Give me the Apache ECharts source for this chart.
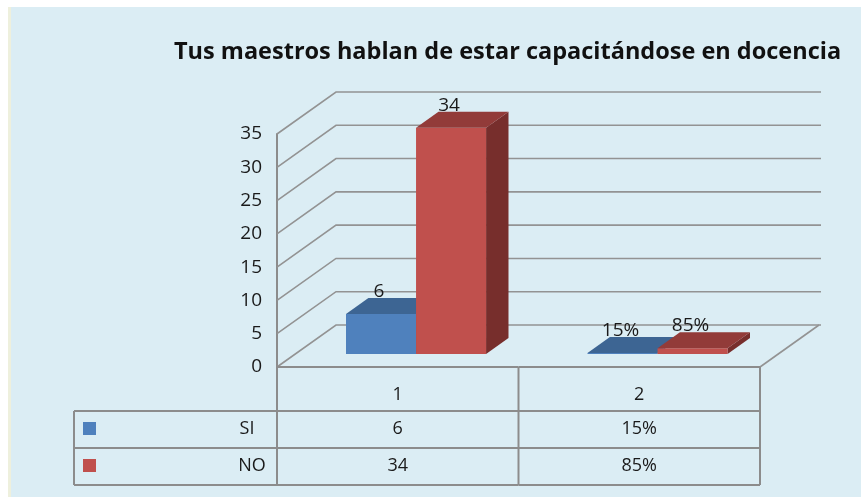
<!DOCTYPE html>
<html>
<head>
<meta charset="utf-8">
<script src="https://cdn.jsdelivr.net/npm/echarts@6/dist/echarts.min.js"></script>
<style>
  html, body { margin: 0; padding: 0; background: #fff; }
  #main { width: 861px; height: 497px; }
</style>
</head>
<body>
<div id="main"></div>
<script>
// datos del grafico
var categorias = ['1', '2'];
var nombres = ['SI', 'NO'];
var valoresSI = [6, 0.15];
var valoresNO = [34, 0.85];
var etiquetasSI = ['6', '15%'];
var etiquetasNO = ['34', '85%'];
var ticksY = [0, 5, 10, 15, 20, 25, 30, 35];

// perspectiva 3D (pixeles)
var DX = 59, DY = -42;
var F1 = 0.31, F2 = 0.69;
var FUENTE = '"Open Sans", sans-serif';
var GRIS = '#939393';

var coloresSI = ['#4f81bd', '#3d6593', '#2f4f74'];
var coloresNO = ['#c0504d', '#923b39', '#772e2c'];

function barra(lado, colores, etiquetas) {
  return function (params, api) {
    var i = api.value(0), v = api.value(1);
    var base = api.coord([i, 0]);
    var tope = api.coord([i, v]);
    var band = api.size([1, 0])[0];
    var w = band * 0.29;
    var xl = lado === 0 ? base[0] - w : base[0];
    var xr = xl + w;
    var ax = F1 * DX, ay = F1 * DY, bx = F2 * DX, by = F2 * DY;
    var yb = base[1], yt = tope[1];
    return {
      type: 'group',
      children: [
        { type: 'polygon', shape: { points: [[xr + ax, yb + ay], [xr + bx, yb + by], [xr + bx, yt + by], [xr + ax, yt + ay]] }, style: { fill: colores[2] } },
        { type: 'rect', shape: { x: xl + ax, y: yt + ay, width: w, height: yb - yt }, style: { fill: colores[0] } },
        { type: 'polygon', shape: { points: [[xl + ax, yt + ay], [xr + ax, yt + ay], [xr + bx, yt + by], [xl + bx, yt + by]] }, style: { fill: colores[1] } },
        { type: 'text', style: { text: etiquetas[params.dataIndex], x: (xl + xr) / 2 + ax - 2, y: yt + by + 3, align: 'center', verticalAlign: 'bottom', font: '19px ' + FUENTE, fill: '#1a1a1a' } }
      ]
    };
  };
}

function rejilla(params, api) {
  var t = api.value(1);
  var p = api.coord([0, t]);
  var band = api.size([1, 0])[0];
  var xl = p[0] - band / 2;
  var xr = api.coord([categorias.length - 1, t])[0] + band / 2;
  var hijos = [
    { type: 'polyline', shape: { points: [[xl, p[1]], [xl + DX, p[1] + DY], [xr + DX + 2, p[1] + DY]] }, style: { stroke: GRIS, lineWidth: 1.6, fill: null } }
  ];
  if (t === 0) {
    hijos.push({ type: 'line', shape: { x1: xr, y1: p[1], x2: xr + DX, y2: p[1] + DY }, style: { stroke: GRIS, lineWidth: 1.6 } });
  }
  return { type: 'group', children: hijos };
}

function tabla(params, api) {
  var i = api.value(0);
  var c = api.coord([i, 0]);
  var band = api.size([1, 0])[0];
  var x0 = c[0] - band / 2, x1 = c[0] + band / 2, y0 = c[1];
  var r1 = y0 + 44, r2 = y0 + 81, r3 = y0 + 118;
  var ls = { stroke: '#8c8c8c', lineWidth: 2 };
  var tx = function (s, x, y, al) {
    return { type: 'text', style: { text: s, x: x, y: y, align: al || 'center', verticalAlign: 'middle', font: '18px ' + FUENTE, fill: '#1a1a1a' } };
  };
  var hijos = [
    { type: 'line', shape: { x1: x0, y1: y0, x2: x1, y2: y0 }, style: ls },
    { type: 'line', shape: { x1: x0, y1: r1, x2: x1, y2: r1 }, style: ls },
    { type: 'line', shape: { x1: x0, y1: r2, x2: x1, y2: r2 }, style: ls },
    { type: 'line', shape: { x1: x0, y1: r3, x2: x1, y2: r3 }, style: ls },
    { type: 'line', shape: { x1: x1, y1: y0, x2: x1, y2: r3 }, style: ls },
    tx(categorias[i], c[0], y0 + 28),
    tx(etiquetasSI[i], c[0], r1 + 18),
    tx(etiquetasNO[i], c[0], r2 + 18)
  ];
  if (i === 0) {
    var xa = x0 - 203;
    hijos.push(
      { type: 'line', shape: { x1: x0, y1: y0, x2: x0, y2: r3 }, style: ls },
      { type: 'line', shape: { x1: xa, y1: r1, x2: x0, y2: r1 }, style: ls },
      { type: 'line', shape: { x1: xa, y1: r2, x2: x0, y2: r2 }, style: ls },
      { type: 'line', shape: { x1: xa, y1: r3, x2: x0, y2: r3 }, style: ls },
      { type: 'line', shape: { x1: xa, y1: r1, x2: xa, y2: r3 }, style: ls },
      { type: 'rect', shape: { x: xa + 9, y: r1 + 11, width: 13, height: 13 }, style: { fill: coloresSI[0] } },
      { type: 'rect', shape: { x: xa + 9, y: r2 + 11, width: 13, height: 13 }, style: { fill: coloresNO[0] } },
      tx(nombres[0], x0 - 30, r1 + 18),
      tx(nombres[1], x0 - 25, r2 + 18)
    );
  }
  return { type: 'group', children: hijos };
}

var chart = echarts.init(document.getElementById('main'));
chart.setOption({
  animation: false,
  backgroundColor: '#ffffff',
  graphic: [
    { type: 'rect', shape: { x: 8, y: 7, width: 4, height: 490 }, style: { fill: '#eef0dd' }, z: -10 },
    { type: 'rect', shape: { x: 11, y: 7, width: 850, height: 490 }, style: { fill: '#dbedf4' }, z: -10 }
  ],
  title: {
    text: 'Tus maestros hablan de estar capacitándose en docencia',
    left: 169,
    top: 35,
    textStyle: { fontFamily: FUENTE, fontSize: 23.5, fontWeight: 'bold', color: '#111' }
  },
  grid: { left: 277, right: 101, top: 134, bottom: 130 },
  xAxis: {
    type: 'category',
    data: categorias,
    axisLine: { show: false },
    axisTick: { show: false },
    axisLabel: { show: false }
  },
  yAxis: {
    type: 'value',
    min: 0,
    max: 35,
    interval: 5,
    axisLine: { show: true, lineStyle: { color: '#8c8c8c', width: 2 } },
    axisTick: { show: false },
    splitLine: { show: false },
    axisLabel: { margin: 15, fontSize: 19, fontFamily: FUENTE, color: '#1a1a1a' }
  },
  series: [
    { type: 'custom', name: 'rejilla', renderItem: rejilla, data: ticksY.map(function (t) { return [0, t]; }), encode: { x: 0, y: 1 }, z: 1 },
    { type: 'custom', name: nombres[0], renderItem: barra(0, coloresSI, etiquetasSI), data: valoresSI.map(function (v, i) { return [i, v]; }), encode: { x: 0, y: 1 }, z: 2 },
    { type: 'custom', name: nombres[1], renderItem: barra(1, coloresNO, etiquetasNO), data: valoresNO.map(function (v, i) { return [i, v]; }), encode: { x: 0, y: 1 }, z: 3 },
    { type: 'custom', name: 'tabla', renderItem: tabla, data: categorias.map(function (c, i) { return [i, 0]; }), encode: { x: 0, y: 1 }, z: 4 }
  ]
});
</script>
</body>
</html>
